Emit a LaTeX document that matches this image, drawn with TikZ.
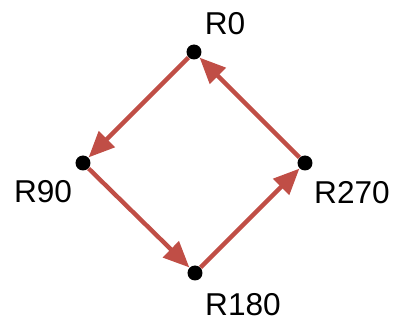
\documentclass[tikz,border=0pt]{standalone}
\usepackage{fontspec}
\setmainfont{Liberation Sans}
\usetikzlibrary{arrows.meta}
\definecolor{edgered}{RGB}{192,78,70}

\begin{document}
\begin{tikzpicture}[x=0.5pt,y=-0.5pt,
  dot/.style={circle,fill=black,inner sep=0pt,minimum size=7.5pt},
  lbl/.style={font=\fontsize{15.8}{18}\selectfont,inner sep=0pt},
  edge/.style={draw=edgered,line width=2.2pt,-{Triangle[length=13pt,width=11pt]},shorten >=0pt}]
\useasboundingbox (0,0) rectangle (403,326);
\node[dot] (R0) at (194,52) {};
\node[dot] (R90) at (83,163) {};
\node[dot] (R180) at (195,273) {};
\node[dot] (R270) at (305,163) {};
\node[lbl] (l0) at (225,24) {R0};
\node[lbl] (l90) at (43,192) {R90};
\node[lbl] (l180) at (243,305) {R180};
\node[lbl] (l270) at (352,193) {R270};
\draw[edge] (R0) -- (R90);
\draw[edge] (R90) -- (R180);
\draw[edge] (R180) -- (R270);
\draw[edge] (R270) -- (R0);
\end{tikzpicture}
\end{document}
